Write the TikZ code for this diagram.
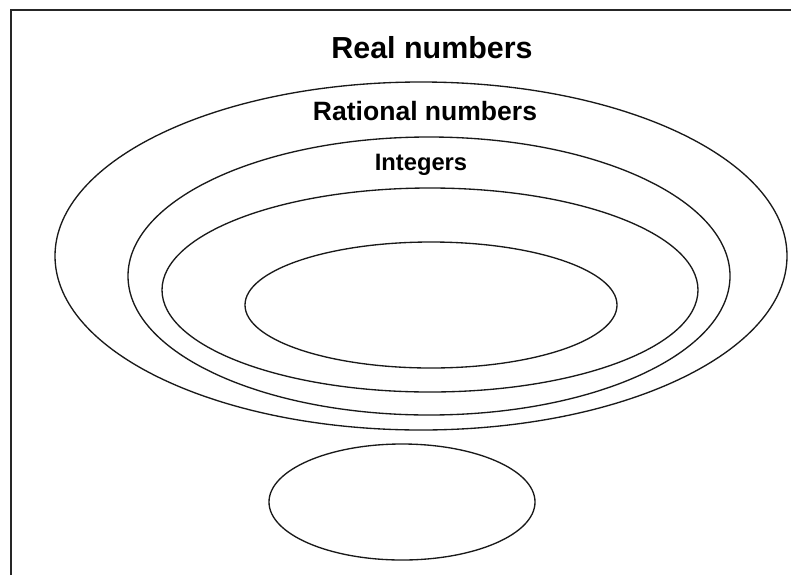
\documentclass[tikz,border=0pt]{standalone}
\usepackage{fontspec}
\setmainfont{Liberation Sans}
\usetikzlibrary{shapes.geometric}
\begin{document}
\begin{tikzpicture}[x=0.75pt,y=-0.75pt,
  set/.style={draw=black!90,line width=1pt,ellipse,inner sep=0pt},
  lbl/.style={anchor=base,inner sep=0pt,font=\bfseries}]
\useasboundingbox (0,0) rectangle (791,575);
\draw[line width=1.2pt,black!85] (11,575) -- (11,10) -- (791,10);
\node[set,minimum width=732*0.75pt,minimum height=348*0.75pt] (real) at (421,256) {};
\node[set,minimum width=602*0.75pt,minimum height=278*0.75pt] (rat) at (429,276) {};
\node[set,minimum width=536*0.75pt,minimum height=204*0.75pt] (int) at (430,290) {};
\node[set,minimum width=372*0.75pt,minimum height=126*0.75pt] (nat) at (431,305) {};
\node[set,minimum width=266*0.75pt,minimum height=116*0.75pt] (irr) at (402,502) {};
\node[lbl,font=\fontsize{22.8}{26}\selectfont\bfseries] (treal) at (432,58) {Real numbers};
\node[lbl,font=\fontsize{19.9}{23}\selectfont\bfseries] (trat) at (425,120) {Rational numbers};
\node[lbl,font=\fontsize{17.8}{21}\selectfont\bfseries] (tint) at (421,170) {Integers};
\end{tikzpicture}
\end{document}
